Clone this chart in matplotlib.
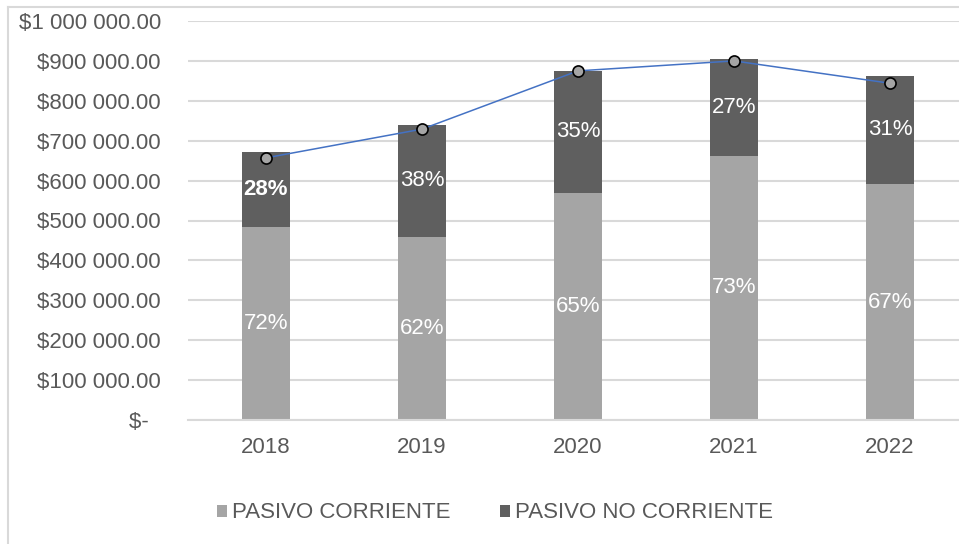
import numpy as np
import matplotlib
matplotlib.use("Agg")
import matplotlib.pyplot as plt
from matplotlib.lines import Line2D

plt.rcParams['font.family'] = ['Liberation Sans', 'DejaVu Sans']

# data
years = ['2018', '2019', '2020', '2021', '2022']
corriente = [484000, 459000, 569000, 662000, 591000]
no_corriente = [188000, 280000, 306000, 243000, 272000]
total_line = [657000, 729000, 875000, 900000, 844000]
pct_corr = ['72%', '62%', '65%', '73%', '67%']
pct_nocorr = ['28%', '38%', '35%', '27%', '31%']
ytick_vals = [0, 100000, 200000, 300000, 400000, 500000, 600000, 700000, 800000, 900000, 1000000]
ytick_labels = ['$-  ', '$100 000.00', '$200 000.00', '$300 000.00', '$400 000.00',
                '$500 000.00', '$600 000.00', '$700 000.00', '$800 000.00',
                '$900 000.00', '$1 000 000.00']

c_light = '#A5A5A5'
c_dark = '#5F5F5F'
c_grid = '#D9D9D9'
c_text = '#595959'
fs = 16

W, H = 959, 544
fig = plt.figure(figsize=(W / 100, H / 100), dpi=100)
ax = fig.add_axes([188 / W, (H - 420) / H, (968 - 188) / W, (420 - 21) / H])

x = np.arange(len(years))
bw = 0.314
b1 = ax.bar(x, corriente, bw, color=c_light, label='PASIVO CORRIENTE', zorder=2)
b2 = ax.bar(x, no_corriente, bw, bottom=corriente, color=c_dark,
            label='PASIVO NO CORRIENTE', zorder=2)

ax.plot(x, total_line, color='#4472C4', lw=1.1, marker='o', markersize=8,
        markerfacecolor=c_light, markeredgecolor='black', markeredgewidth=1.2, zorder=3)

for i in range(len(years)):
    ax.text(x[i], corriente[i] / 2, pct_corr[i], ha='center', va='center',
            color='white', fontsize=fs, zorder=4)
    ax.text(x[i], corriente[i] + no_corriente[i] / 2, pct_nocorr[i], ha='center',
            va='center', color='white', fontsize=fs, zorder=4,
            fontweight='bold' if i == 0 else 'normal')

ax.set_xlim(-0.5, 4.5)
ax.set_ylim(0, 1000000)
ax.set_yticks(ytick_vals)
ax.set_yticklabels(ytick_labels)
ax.set_xticks(x)
ax.set_xticklabels(years)
ax.tick_params(axis='both', length=0, labelsize=fs, labelcolor=c_text)
ax.tick_params(axis='y', pad=19.5)
ax.tick_params(axis='x', pad=12)
ax.grid(axis='y', color=c_grid, lw=1.5, zorder=0)
ax.set_axisbelow(True)
for s in ['top', 'right', 'left']:
    ax.spines[s].set_visible(False)
ax.spines['bottom'].set_color(c_grid)
ax.spines['bottom'].set_linewidth(1.5)

fig.legend(handles=[b1, b2], loc='center', bbox_to_anchor=(495 / W, 1 - 513 / H),
           ncol=2, frameon=False, fontsize=fs, labelcolor=c_text,
           handlelength=0.45, handleheight=0.45, handletextpad=0.25,
           columnspacing=2.2)

# outer chart border (cropped at right and bottom)
fig.add_artist(Line2D([8 / W, 8 / W], [0, 1 - 7 / H], color=c_grid, lw=1.5,
                      transform=fig.transFigure))
fig.add_artist(Line2D([8 / W, 1], [1 - 7 / H, 1 - 7 / H], color=c_grid, lw=1.5,
                      transform=fig.transFigure))

fig.savefig('out.png', dpi=100)
